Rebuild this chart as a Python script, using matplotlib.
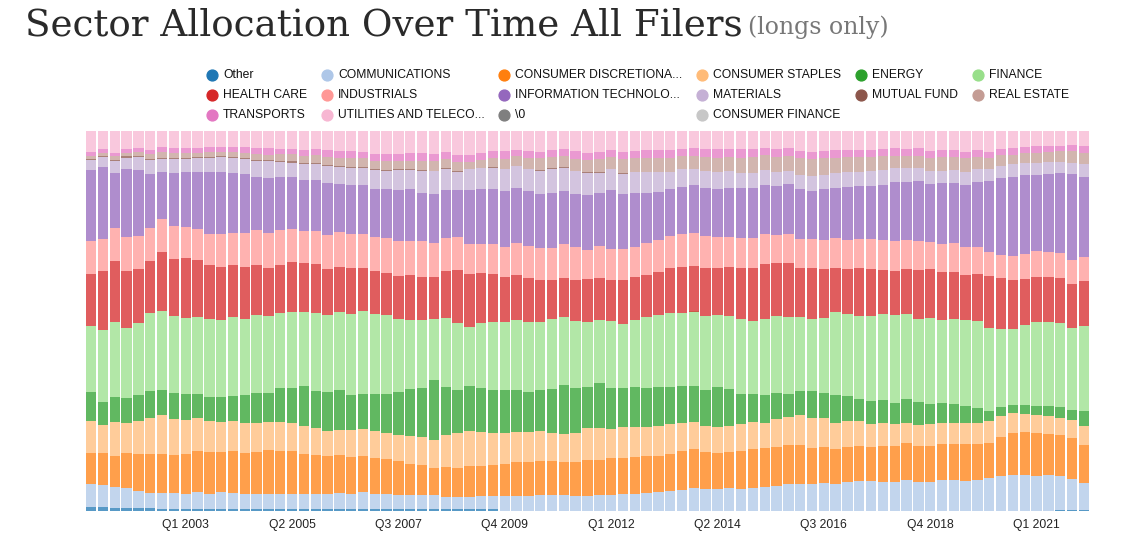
import matplotlib
matplotlib.use("Agg")
import matplotlib.pyplot as plt
import numpy as np

# quarterly periods Q1 2001 .. Q1 2022
quarters = [f"Q{q} {y}" for y in range(2001, 2023) for q in range(1, 5)][:85]

sectors = ["Other", "COMMUNICATIONS", "CONSUMER DISCRETIONA...", "CONSUMER STAPLES",
           "ENERGY", "FINANCE", "HEALTH CARE", "INDUSTRIALS",
           "INFORMATION TECHNOLO...", "MATERIALS", "MUTUAL FUND", "REAL ESTATE",
           "TRANSPORTS", "UTILITIES AND TELECO...", "\\0", "CONSUMER FINANCE"]

colors = ["#1f77b4", "#aec7e8", "#ff7f0e", "#ffbb78", "#2ca02c", "#98df8a",
          "#d62728", "#ff9896", "#9467bd", "#c5b0d5", "#8c564b", "#c49c94",
          "#e377c2", "#f7b6d2", "#7f7f7f", "#c7c7c7"]

# share of long holdings (%) per quarter
other = [1.1, 1.1, 0.8, 0.8, 0.7, 0.7, 0.6] + [0.4] * 28 + [0.0] * 47 + [0.3, 0.3, 0.3]
communications = [
    6.0, 5.8, 5.4, 5.2, 4.6, 4.0, 4.1, 4.4, 4.2, 4.6,
    4.2, 4.5, 4.3, 4.1, 4.1, 4.1, 4.1, 4.2, 4.1, 4.1,
    4.1, 4.4, 4.2, 4.6, 4.2, 4.0, 3.9, 3.9, 3.8, 3.7,
    3.4, 3.3, 3.3, 3.5, 3.5, 3.9, 3.9, 3.9, 4.1, 4.1,
    4.1, 3.9, 4.0, 4.3, 4.1, 4.4, 4.6, 4.7, 4.9, 5.2,
    5.5, 6.0, 5.7, 5.7, 6.0, 5.9, 6.1, 6.2, 6.5, 7.1,
    7.2, 7.1, 7.4, 7.1, 7.5, 7.8, 7.9, 7.7, 7.7, 8.1,
    7.5, 7.6, 8.1, 8.1, 7.9, 8.2, 8.7, 9.3, 9.5, 9.4,
    9.2, 9.4, 8.9, 8.1, 7.1]
cons_discretionary = [
    8.2, 8.3, 8.3, 9.2, 9.7, 10.3, 10.3, 9.9, 10.3, 10.9,
    11.0, 10.7, 11.1, 10.8, 11.1, 11.6, 11.2, 11.1, 10.5, 10.3,
    10.0, 9.9, 9.5, 9.6, 9.4, 9.4, 8.9, 8.0, 7.9, 7.1,
    7.7, 7.5, 8.2, 7.9, 8.2, 8.5, 9.1, 8.9, 9.0, 9.0,
    8.9, 9.1, 9.3, 9.2, 9.7, 9.6, 9.5, 9.6, 9.6, 9.9,
    10.2, 10.2, 9.7, 9.5, 9.5, 9.8, 10.2, 10.4, 10.3, 10.2,
    10.3, 9.5, 9.4, 9.1, 9.2, 9.2, 8.9, 9.4, 9.4, 9.8,
    9.7, 9.5, 9.5, 9.6, 9.6, 9.3, 9.1, 10.2, 11.0, 11.3,
    11.3, 10.9, 10.9, 10.9, 10.0]
cons_staples = [
    8.4, 7.4, 8.9, 8.0, 8.7, 9.6, 10.1, 9.6, 9.0, 8.7,
    8.2, 7.8, 7.9, 8.0, 7.6, 7.4, 7.6, 7.4, 7.3, 7.0,
    6.7, 6.7, 7.3, 6.9, 7.1, 6.8, 6.8, 7.5, 7.5, 7.6,
    8.6, 9.3, 9.1, 8.9, 8.4, 8.1, 7.9, 8.1, 7.9, 7.5,
    7.3, 7.5, 8.4, 8.2, 7.6, 8.2, 8.0, 7.7, 7.9, 7.7,
    7.3, 7.1, 6.8, 6.9, 6.8, 7.1, 7.0, 6.6, 7.5, 7.5,
    7.7, 7.9, 7.5, 6.9, 6.8, 6.7, 6.1, 6.0, 5.7, 5.3,
    5.3, 5.7, 5.5, 5.5, 5.6, 5.5, 6.0, 5.4, 5.4, 4.9,
    4.6, 4.6, 4.5, 4.7, 4.9]
energy = [
    7.6, 6.1, 6.7, 6.6, 6.7, 7.0, 6.8, 6.7, 6.8, 6.3,
    6.3, 6.6, 6.6, 7.2, 7.9, 7.6, 9.1, 9.3, 10.5, 9.8,
    10.2, 10.5, 9.2, 9.3, 9.6, 10.3, 11.4, 12.4, 12.9, 15.6,
    12.4, 11.3, 11.8, 11.7, 11.3, 11.3, 10.9, 10.5, 10.7, 11.6,
    12.7, 11.8, 11.0, 11.8, 10.8, 10.1, 10.4, 10.3, 10.2, 9.8,
    9.8, 9.6, 9.7, 10.4, 9.7, 7.8, 7.5, 7.3, 6.8, 6.0,
    6.3, 6.9, 6.8, 7.3, 6.6, 5.9, 6.0, 6.1, 5.6, 6.3,
    6.0, 5.2, 5.3, 4.9, 4.5, 4.1, 2.5, 2.5, 2.0, 2.2,
    2.6, 2.7, 2.8, 2.5, 3.9]
finance = [
    17.3, 18.9, 19.7, 18.3, 19.0, 20.4, 20.6, 20.4, 20.1, 20.2,
    20.4, 20.2, 20.7, 20.2, 20.5, 20.3, 19.6, 19.9, 19.5, 20.4,
    20.1, 20.4, 21.3, 21.8, 21.3, 20.7, 19.2, 18.2, 17.8, 16.1,
    18.2, 17.5, 15.4, 17.0, 18.1, 17.8, 18.5, 18.3, 17.9, 18.2,
    18.0, 17.5, 17.0, 16.7, 17.6, 17.0, 17.7, 18.6, 18.9, 19.4,
    19.3, 19.6, 19.4, 18.9, 19.3, 19.7, 19.2, 20.0, 20.2, 20.3,
    19.5, 19.1, 19.6, 21.8, 21.6, 21.8, 22.4, 22.6, 23.0, 22.2,
    21.9, 22.8, 21.9, 22.5, 22.7, 22.7, 21.9, 20.5, 20.1, 21.0,
    21.9, 22.0, 22.2, 21.7, 22.5]
health_care = [
    13.8, 15.6, 15.9, 15.1, 14.2, 13.9, 15.5, 15.1, 15.7, 15.0,
    14.3, 13.9, 13.7, 13.6, 13.2, 12.5, 12.6, 13.1, 12.8, 13.0,
    12.3, 11.9, 12.2, 11.3, 11.2, 11.1, 11.2, 11.7, 11.4, 11.1,
    12.5, 14.1, 14.1, 13.2, 12.5, 11.8, 11.8, 11.6, 11.1, 10.4,
    10.3, 10.9, 11.3, 11.1, 10.8, 11.5, 11.2, 11.1, 11.5, 11.9,
    12.0, 11.9, 12.5, 12.4, 12.8, 13.5, 13.9, 14.6, 13.9, 14.2,
    12.9, 13.2, 12.8, 11.8, 11.8, 12.5, 12.4, 11.7, 11.7, 11.9,
    12.9, 12.9, 12.5, 12.3, 11.7, 12.4, 13.6, 13.2, 12.9, 12.3,
    11.8, 11.8, 11.9, 11.7, 11.8]
industrials = [
    8.6, 8.5, 8.8, 8.9, 8.7, 8.6, 8.6, 8.5, 8.2, 8.2,
    8.2, 8.7, 8.5, 9.0, 9.0, 9.2, 9.2, 8.8, 8.6, 8.6,
    8.9, 9.0, 8.8, 8.9, 8.9, 9.2, 9.2, 9.2, 9.5, 8.8,
    8.7, 8.5, 7.7, 7.6, 7.9, 7.9, 8.4, 8.4, 8.3, 8.4,
    8.8, 8.6, 7.7, 8.2, 8.2, 8.1, 8.1, 8.2, 8.3, 8.2,
    8.6, 8.7, 8.4, 8.2, 8.0, 7.8, 7.9, 7.8, 7.5, 7.5,
    7.7, 7.7, 7.6, 7.7, 7.7, 7.7, 7.8, 7.8, 7.9, 7.5,
    7.6, 7.1, 7.4, 7.5, 7.4, 7.1, 6.3, 6.2, 6.2, 6.5,
    6.8, 6.7, 6.4, 6.3, 6.3]
info_tech = [
    18.7, 18.9, 14.5, 18.0, 17.5, 14.2, 12.5, 14.0, 14.5, 15.0,
    16.3, 16.3, 15.8, 15.4, 14.1, 14.5, 13.8, 13.5, 13.4, 13.5,
    13.7, 12.6, 13.0, 12.9, 12.7, 12.8, 13.4, 13.7, 12.6, 12.9,
    12.6, 12.5, 14.4, 14.6, 14.6, 14.9, 14.4, 14.5, 14.3, 14.4,
    13.9, 13.9, 14.4, 13.9, 15.3, 14.6, 14.2, 13.3, 12.7, 12.5,
    12.5, 12.6, 12.7, 12.7, 12.9, 13.1, 13.0, 12.9, 12.9, 13.2,
    13.2, 12.7, 13.5, 13.2, 13.9, 13.9, 14.1, 14.5, 15.4, 15.4,
    15.8, 15.2, 16.0, 16.0, 16.4, 17.1, 18.8, 20.2, 20.8, 20.8,
    20.0, 20.5, 21.1, 22.5, 21.0]
materials = [
    2.6, 2.5, 3.1, 2.9, 3.3, 3.6, 3.4, 3.8, 3.4, 3.5,
    3.5, 4.0, 3.8, 3.9, 4.2, 4.5, 4.1, 3.9, 4.2, 4.1,
    4.4, 4.6, 4.5, 4.5, 5.0, 4.9, 5.3, 4.9, 5.8, 6.1,
    5.4, 4.7, 5.4, 5.4, 5.5, 5.7, 5.7, 5.8, 6.1, 6.4,
    6.3, 6.1, 5.8, 5.5, 5.5, 5.3, 5.4, 5.5, 5.3, 4.5,
    4.7, 4.4, 4.5, 4.4, 4.3, 4.0, 4.0, 3.9, 3.6, 3.3,
    3.7, 3.8, 3.7, 3.9, 3.8, 3.8, 3.8, 3.9, 3.7, 3.5,
    3.4, 3.5, 3.3, 3.3, 3.3, 3.3, 3.0, 3.2, 3.3, 3.2,
    3.2, 3.2, 2.9, 3.0, 3.3]
mutual_fund = ([0.3] * 5 + [0.4] + [0.3] * 12 + [0.2, 0.2, 0.3, 0.3] + [0.2] * 10
               + [0.1] * 14 + [0.0] * 39)
real_estate = [
    0.8, 0.9, 1.0, 0.9, 1.0, 1.2, 1.4, 1.1, 1.3, 1.2,
    1.3, 1.1, 1.4, 1.5, 1.5, 1.5, 1.7, 1.9, 1.8, 2.1,
    2.2, 2.0, 2.3, 2.4, 2.3, 2.4, 2.3, 2.3, 2.5, 2.5,
    2.5, 2.3, 1.8, 2.1, 2.4, 2.6, 2.5, 2.8, 3.2, 3.0,
    2.8, 3.1, 3.4, 3.4, 3.3, 3.8, 3.7, 3.7, 3.7, 3.7,
    3.3, 3.3, 3.6, 3.8, 3.8, 4.0, 4.2, 3.9, 4.0, 4.1,
    4.3, 4.5, 4.4, 3.9, 3.9, 3.9, 3.8, 3.7, 3.3, 3.3,
    3.2, 3.3, 3.6, 3.5, 3.6, 3.3, 3.0, 2.7, 2.6, 2.5,
    2.7, 2.6, 2.8, 3.0, 3.1]
transports = [
    1.1, 1.0, 0.9, 1.1, 1.1, 1.1, 1.4, 1.4, 1.3, 1.2,
    1.4, 1.3, 1.3, 1.5, 1.4, 1.6, 1.5, 1.4, 1.7, 1.7,
    1.8, 1.9, 1.8, 1.8, 1.8, 1.8, 1.8, 2.0, 1.9, 1.8,
    1.9, 1.9, 1.8, 1.8, 1.9, 2.0, 1.8, 1.8, 1.6, 1.8,
    2.0, 2.0, 1.7, 1.9, 1.8, 1.8, 1.8, 2.0, 2.0, 2.0,
    2.0, 2.1, 2.1, 2.2, 2.1, 2.4, 2.2, 1.9, 2.1, 2.0,
    1.9, 1.9, 1.8, 2.2, 1.9, 1.9, 1.9, 1.9, 2.0, 1.9,
    2.0, 1.8, 1.8, 1.8, 1.8, 1.8, 1.6, 1.7, 1.6, 1.6,
    1.7, 1.6, 1.5, 1.7, 1.8]
utilities = [
    5.4, 4.7, 5.7, 4.7, 4.5, 5.0, 4.2, 4.5, 4.4, 4.5,
    4.2, 4.2, 4.2, 4.2, 4.6, 4.6, 4.6, 4.7, 4.9, 4.7,
    5.0, 5.2, 5.4, 5.4, 6.0, 6.0, 6.0, 5.8, 5.9, 6.1,
    5.4, 6.3, 6.3, 5.8, 5.3, 5.3, 4.9, 5.3, 5.5, 5.0,
    4.7, 5.3, 5.8, 5.5, 4.9, 5.5, 5.3, 5.0, 5.0, 5.0,
    4.6, 4.5, 4.7, 4.8, 4.7, 4.7, 4.7, 4.5, 4.7, 4.5,
    5.3, 5.5, 5.3, 5.0, 5.0, 4.9, 4.9, 4.7, 4.5, 4.6,
    4.5, 5.3, 5.0, 5.0, 5.4, 5.0, 5.5, 4.7, 4.6, 4.2,
    4.0, 3.9, 3.9, 3.7, 3.9]
null_sector = [0.0] * 85
consumer_finance = [0.0] * 85

series = [other, communications, cons_discretionary, cons_staples, energy, finance,
          health_care, industrials, info_tech, materials, mutual_fund, real_estate,
          transports, utilities, null_sector, consumer_finance]

tick_labels = ["Q1 2003", "Q2 2005", "Q3 2007", "Q4 2009", "Q1 2012",
               "Q2 2014", "Q3 2016", "Q4 2018", "Q1 2021"]

data = np.array(series, dtype=float)
shares = data / data.sum(axis=0) * 100  # longs only, as share of total

fig = plt.figure(figsize=(11.35, 5.51), dpi=100)
ax = fig.add_axes([86 / 1135, 40 / 551, 1003 / 1135, 380 / 551])

x = np.arange(len(quarters))
bottom = np.zeros(len(quarters))
for vals, col in zip(shares, colors):
    ax.bar(x, vals, bottom=bottom, width=0.88, color=col, alpha=0.75, linewidth=0)
    bottom += vals

ax.set_xlim(-0.44, len(quarters) - 0.56)
ax.set_ylim(0, 100)
ax.set_yticks([])
ax.set_xticks([quarters.index(t) for t in tick_labels])
ax.set_xticklabels(tick_labels, fontsize=8.7, family="Liberation Sans", color="#222222")
ax.tick_params(axis="x", length=0, pad=6)
for s in ax.spines.values():
    s.set_visible(False)

# title
fig.text(25 / 1135, 1 - 36 / 551, "Sector Allocation Over Time All Filers",
         fontsize=26.8, family="DejaVu Serif", color="#2a2a2a", va="baseline")
fig.text(748 / 1135, 1 - 34 / 551, "(longs only)",
         fontsize=17, family="DejaVu Serif", color="#777777", va="baseline")

# legend laid out like the original (6 columns, row-major)
col_x = [212, 327, 504, 702, 861, 978]
row_y = [75, 95, 115]
legend_slots = [(0, 0), (0, 1), (0, 2), (0, 3), (0, 4), (0, 5),
                (1, 0), (1, 1), (1, 2), (1, 3), (1, 4), (1, 5),
                (2, 0), (2, 1), (2, 2), (2, 3)]
for name, col, (r, c) in zip(sectors, colors, legend_slots):
    fx, fy = col_x[c] / 1135, 1 - row_y[r] / 551
    fig.add_artist(plt.Line2D([fx], [fy], marker="o", markersize=7.8,
                              color=col, linestyle="none", transform=fig.transFigure))
    fig.text(fx + 11 / 1135, fy, name, fontsize=8.7, family="Liberation Sans",
             color="#111111", va="center")

fig.savefig("out.png", dpi=100)
